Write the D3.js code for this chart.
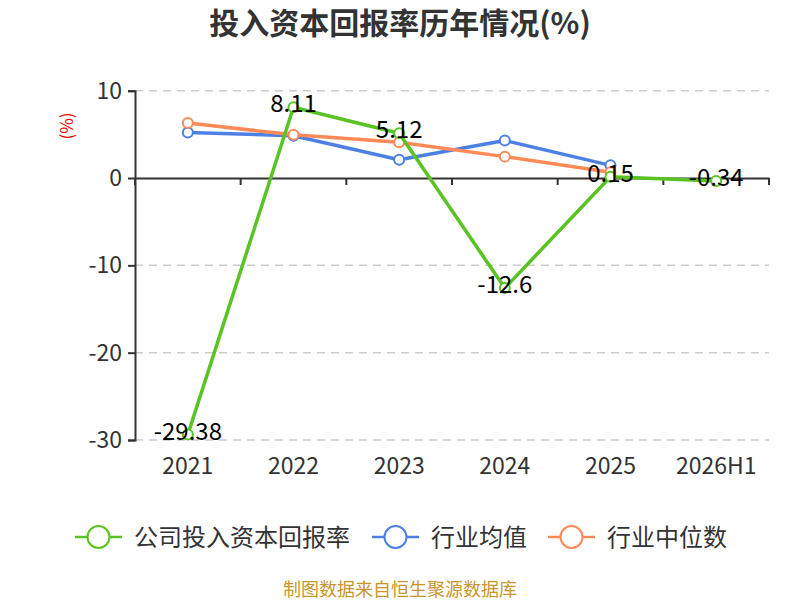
<!DOCTYPE html>
<html><head><meta charset="utf-8">
<script src="https://cdn.jsdelivr.net/npm/d3@7/dist/d3.min.js"></script>
<style>body{margin:0;background:#fff}svg{display:block}text{font-family:"Noto Sans CJK SC","Noto Sans",sans-serif}</style>
</head><body>
<svg id="c" width="800" height="600"></svg>
<script>
const categories = ["2021","2022","2023","2024","2025","2026H1"];
const companyValues = [-29.38, 8.11, 5.12, -12.6, 0.15, -0.34];
const industryAvg = [5.2, 4.85, 2.1, 4.3, 1.45, null];
const industryMedian = [6.3, 4.95, 4.1, 2.45, 0.65, null];
const yTicks = [10, 0, -10, -20, -30];
const seriesNames = ["公司投入资本回报率", "行业均值", "行业中位数"];
const colors = ["#58c322", "#4d80e4", "#ff8a57"];

const svg = d3.select("#c");
const x = d3.scaleBand().domain(categories).range([135, 769]);
const y = d3.scaleLinear().domain([-30, 10]).range([440, 90.7]);

svg.append("text").attr("x", 400).attr("y", 34).attr("text-anchor", "middle")
  .attr("font-size", 30).attr("font-weight", "bold").attr("fill", "#333").text("投入资本回报率历年情况(%)");

// grid
svg.append("g").selectAll("line").data(yTicks.filter(d => d !== 0)).join("line")
  .attr("x1", 135).attr("x2", 769).attr("y1", d => y(d)).attr("y2", d => y(d))
  .attr("stroke", "#ccc").attr("stroke-width", 1.5).attr("stroke-dasharray", "8,6");

// y axis
const yAxis = d3.axisLeft(y).tickValues(yTicks).tickSize(7).tickPadding(6).tickFormat(d => String(d));
const gy = svg.append("g").attr("transform", "translate(135,0)").call(yAxis);
gy.select(".domain").attr("stroke", "#333").attr("stroke-width", 2);
gy.selectAll(".tick line").attr("stroke", "#333").attr("stroke-width", 2);
gy.selectAll(".tick text").attr("font-size", 23).attr("fill", "#333");

svg.append("text").attr("transform", `translate(73,126) rotate(-90)`).attr("text-anchor", "middle")
  .attr("font-size", 17).attr("fill", "#e00").text("(%)");

// x axis at 0
const xAxis = d3.axisBottom(x).tickSize(0).tickPadding(0);
const gx = svg.append("g").attr("transform", `translate(0,${y(0)})`).call(xAxis);
gx.select(".domain").attr("stroke", "#333").attr("stroke-width", 2);
gx.selectAll(".tick text").remove();
const bounds = categories.map(c => x(c)).concat([x.range()[1]]);
svg.append("g").selectAll("line").data(bounds).join("line")
  .attr("x1", d => d).attr("x2", d => d).attr("y1", y(0)).attr("y2", y(0) + 7)
  .attr("stroke", "#333").attr("stroke-width", 2);
svg.append("g").selectAll("text").data(categories).join("text")
  .attr("x", d => x(d) + x.bandwidth() / 2).attr("y", 474).attr("text-anchor", "middle")
  .attr("font-size", 23).attr("fill", "#333").text(d => d);

const cx = d => x(d) + x.bandwidth() / 2;
function drawSeries(vals, color) {
  const pts = categories.map((c, i) => ({c, v: vals[i]})).filter(p => p.v !== null);
  const line = d3.line().x(p => cx(p.c)).y(p => y(p.v));
  svg.append("path").datum(pts).attr("d", line).attr("fill", "none")
    .attr("stroke", color).attr("stroke-width", 3.5).attr("stroke-linejoin", "round");
  svg.append("g").selectAll("circle").data(pts).join("circle")
    .attr("cx", p => cx(p.c)).attr("cy", p => y(p.v)).attr("r", 5)
    .attr("fill", "#fff").attr("stroke", color).attr("stroke-width", 2);
  return pts;
}
drawSeries(industryAvg, colors[1]);
drawSeries(industryMedian, colors[2]);
const cp = drawSeries(companyValues, colors[0]);
svg.append("g").selectAll("text").data(cp).join("text")
  .attr("x", p => cx(p.c)).attr("y", p => y(p.v) + 5).attr("text-anchor", "middle")
  .attr("font-size", 24).attr("fill", "#000").text(p => String(p.v));

// legend
const legendX = [75, 372, 548];
seriesNames.forEach((n, i) => {
  const g = svg.append("g").attr("transform", `translate(${legendX[i]},537)`);
  g.append("line").attr("x1", 0).attr("x2", 47).attr("stroke", colors[i]).attr("stroke-width", 2.5);
  g.append("circle").attr("cx", 23.5).attr("r", 11).attr("fill", "#fff").attr("stroke", colors[i]).attr("stroke-width", 2);
  g.append("text").attr("x", 59).attr("y", 9).attr("font-size", 24).attr("fill", "#333").text(n);
});

svg.append("text").attr("x", 400).attr("y", 596).attr("text-anchor", "middle")
  .attr("font-size", 18).attr("fill", "#c8962a").text("制图数据来自恒生聚源数据库");
</script>
</body></html>
